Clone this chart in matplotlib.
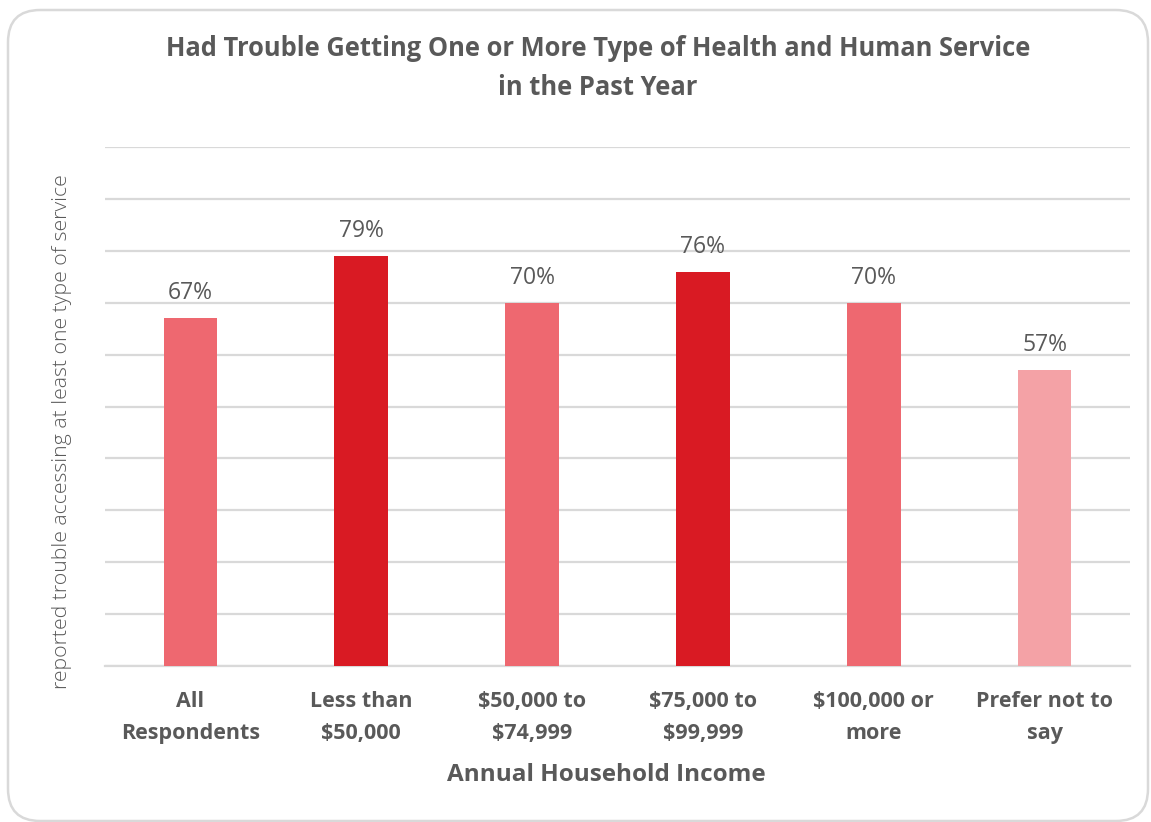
import matplotlib
matplotlib.use("Agg")
import matplotlib.pyplot as plt
from matplotlib.patches import FancyBboxPatch

plt.rcParams['font.family'] = ['Open Sans', 'DejaVu Sans']

categories = ["All\nRespondents", "Less than\n$50,000", "$50,000 to\n$74,999",
              "$75,000 to\n$99,999", "$100,000 or\nmore", "Prefer not to\nsay"]
values = [67, 79, 70, 76, 70, 57]
labels = ["67%", "79%", "70%", "76%", "70%", "57%"]
colors = ["#EE6870", "#D91A23", "#EE6870", "#D91A23", "#EE6870", "#F4A2A6"]

title = "Had Trouble Getting One or More Type of Health and Human Service\nin the Past Year"
xlabel = "Annual Household Income"
ylabel = "reported trouble accessing at least one type of service"

W, H = 1151, 822
fig = plt.figure(figsize=(W / 100, H / 100), dpi=100)
fig.patch.set_facecolor("white")

# rounded frame
frame = FancyBboxPatch((8 / W, 1 - 821 / H), (1148 - 8) / W, (821 - 10) / H,
                       boxstyle="round,pad=0,rounding_size=0.028",
                       transform=fig.transFigure, facecolor="none",
                       edgecolor="#D9D9D9", linewidth=1.8, mutation_aspect=W / H)
fig.patches.append(frame)

ax = fig.add_axes([105 / W, 1 - 666 / H, (1130 - 105) / W, (666 - 147) / H])
x = list(range(len(categories)))
bars = ax.bar(x, values, width=0.315, color=colors, zorder=3)
ax.set_xlim(-0.5, len(categories) - 0.5)
ax.set_ylim(0, 100)
ax.set_yticks(range(0, 101, 10))
ax.yaxis.grid(True, color="#D9D9D9", linewidth=1.6, zorder=0)
ax.set_yticklabels([])
ax.tick_params(axis="y", length=0)
ax.tick_params(axis="x", length=0, pad=18)
ax.set_xticks(x)
ax.set_xticklabels(categories, fontsize=15.5, fontweight="bold", color="#595959",
                   linespacing=1.68)
for s in ["top", "right", "left"]:
    ax.spines[s].set_visible(False)
ax.spines["bottom"].set_color("#D9D9D9")
ax.spines["bottom"].set_linewidth(1.6)

for xi, v, lab in zip(x, values, labels):
    ax.annotate(lab, (xi, v), xytext=(0, 18), textcoords="offset points",
                ha="center", va="center", fontsize=16.5, color="#595959")

fig.text(598 / W, 1 - 68 / H, title, ha="center", va="center",
         fontsize=18.4, fontweight="bold", color="#595959", linespacing=1.55)
fig.text(606 / W, 1 - 775 / H, xlabel, ha="center", va="center",
         fontsize=17.5, fontweight="bold", color="#595959")
fig.text(62 / W, 1 - 432 / H, ylabel, ha="center", va="center", rotation=90,
         fontsize=15.3, color="#595959", fontweight="light")

fig.savefig("out.png", dpi=100, facecolor="white")
